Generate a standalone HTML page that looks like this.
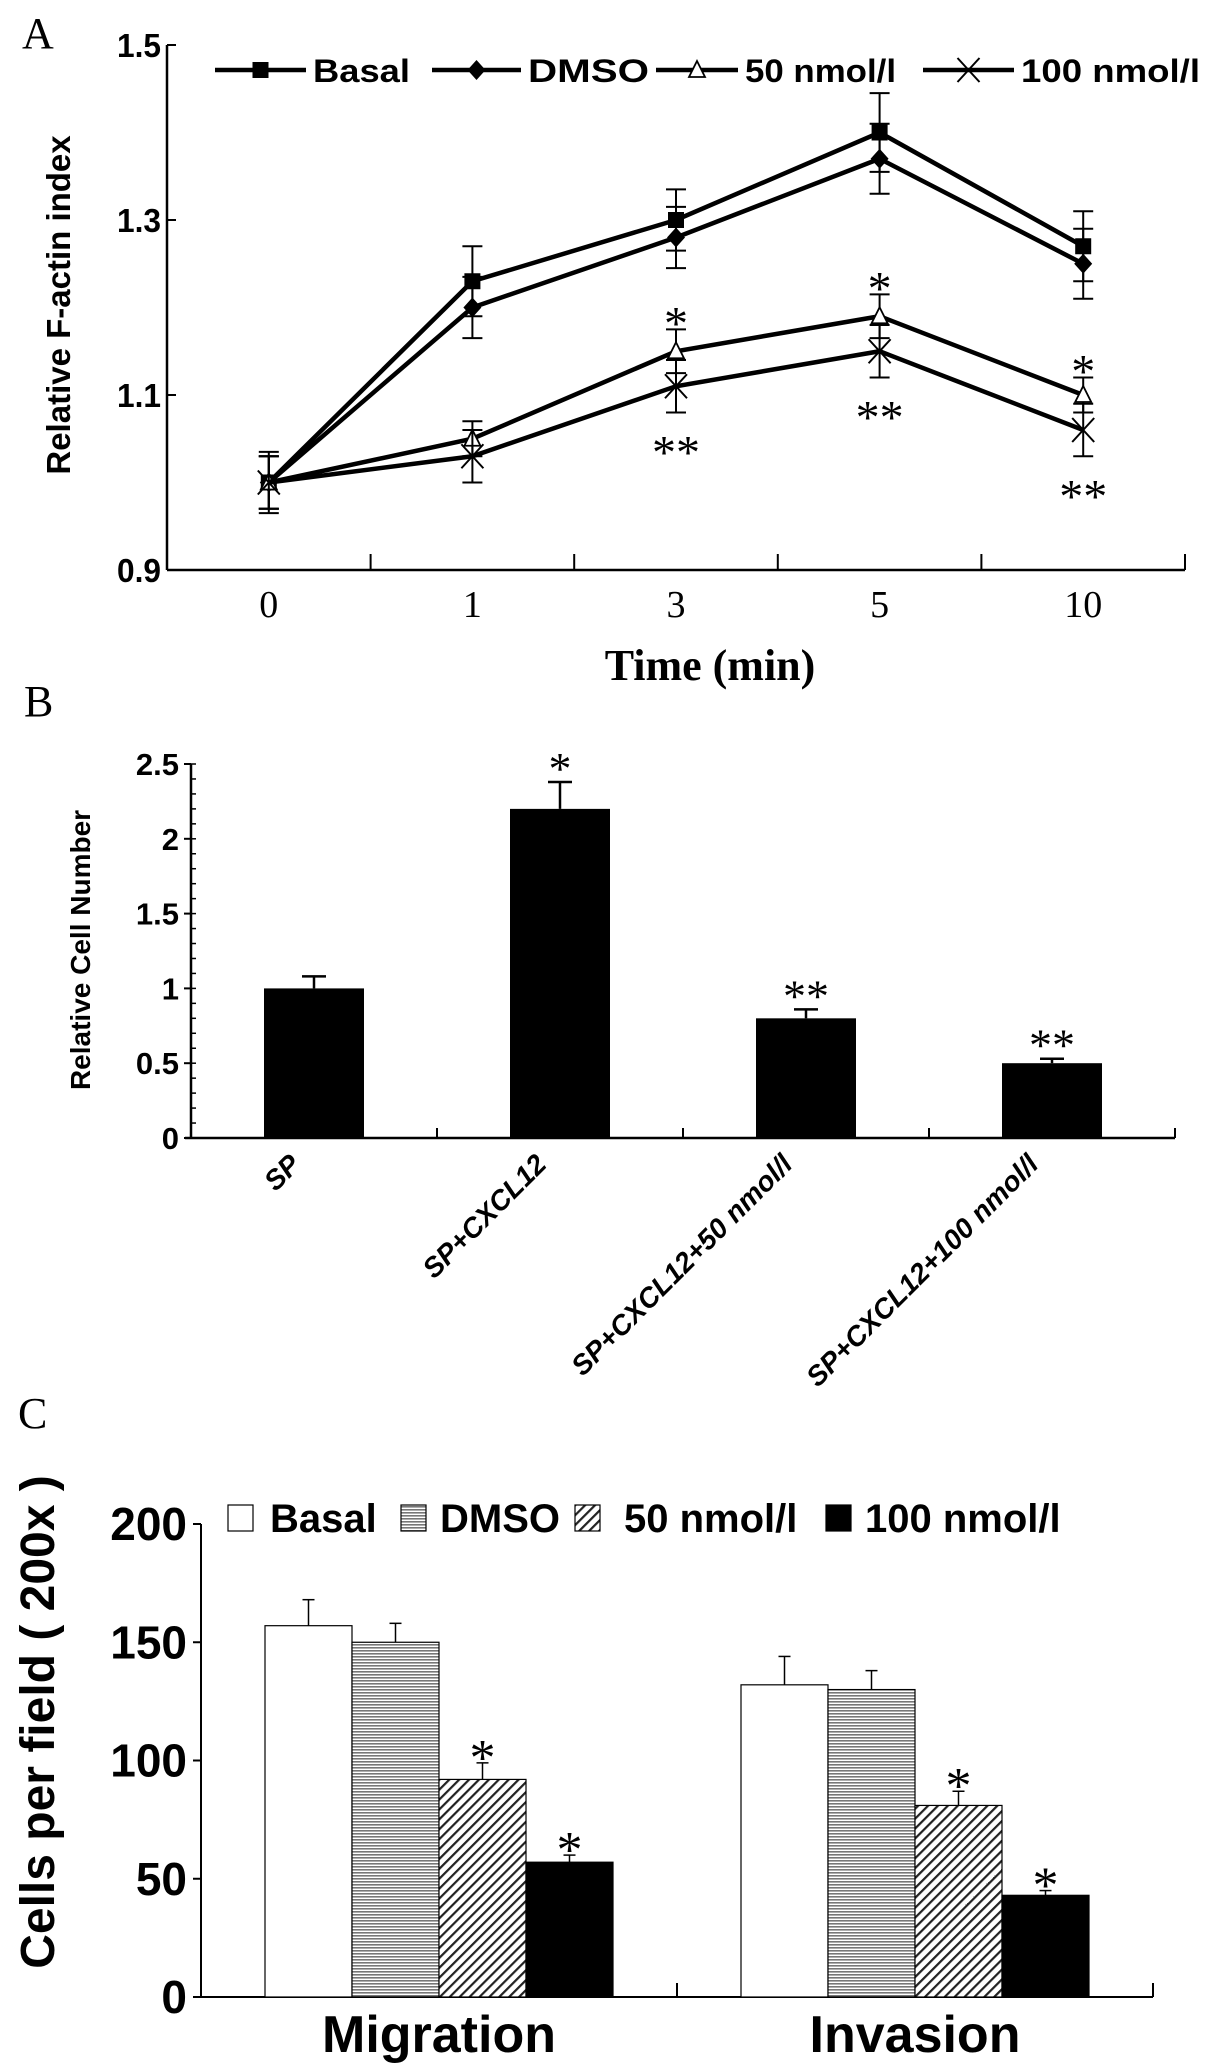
<!DOCTYPE html>
<html><head><meta charset="utf-8"><style>
html,body{margin:0;padding:0;background:#fff;}
svg{display:block;}
.n{font-family:"Liberation Sans Narrow","Liberation Sans",sans-serif;font-weight:bold;}
.s{font-family:"Liberation Sans",sans-serif;font-weight:bold;}
.r{font-family:"Liberation Serif",serif;}
</style></head><body>
<svg id="fig" width="1205" height="2072" viewBox="0 0 1205 2072" xmlns="http://www.w3.org/2000/svg">
<defs>
<pattern id="hz" width="6" height="3" patternUnits="userSpaceOnUse"><rect width="6" height="3" fill="#fff"/><rect width="6" height="1.6" fill="#777"/></pattern>
<pattern id="dg" width="7" height="7" patternUnits="userSpaceOnUse" patternTransform="rotate(45)"><rect width="7" height="7" fill="#fff"/><rect width="2.2" height="7" fill="#222"/></pattern>
</defs>
<g id="pa"></g>
<g id="pb"></g>
<g id="pc"></g>
</svg>
<script>
// Panel A data
const aCats = ["0","1","3","5","10"];
const aSeriesNames = ["Basal","DMSO","50 nmol/l","100 nmol/l"];
const aBasal = [1.0,1.23,1.30,1.40,1.27];
const aBasalErr = [0.03,0.04,0.035,0.045,0.04];
const aDmso = [1.0,1.20,1.28,1.37,1.25];
const aDmsoErr = [0.035,0.035,0.035,0.04,0.04];
const a50 = [1.0,1.05,1.15,1.19,1.10];
const a50Err = [0.03,0.02,0.025,0.025,0.02];
const a100 = [1.0,1.03,1.11,1.15,1.06];
const a100Err = [0.03,0.03,0.03,0.03,0.03];
const aTicks = [0.9,1.1,1.3,1.5];
const aTickLabels = ["0.9","1.1","1.3","1.5"];
// Panel B data
const bCats = ["SP","SP+CXCL12","SP+CXCL12+50 nmol/l","SP+CXCL12+100 nmol/l"];
const bVals = [1.0,2.2,0.8,0.5];
const bErr = [0.08,0.18,0.06,0.03];
const bSig = ["","*","**","**"];
const bTicks = [0,0.5,1,1.5,2,2.5];
const bTickLabels = ["0","0.5","1","1.5","2","2.5"];
// Panel C data
const cGroups = ["Migration","Invasion"];
const cSeries = ["Basal","DMSO","50 nmol/l","100 nmol/l"];
const cMigration = [157,150,92,57];
const cMigrationErr = [11,8,7,3];
const cInvasion = [132,130,81,43];
const cInvasionErr = [12,8,6,2];
const cSig = ["","","*","*"];
const cTicks = [0,50,100,150,200];
const cTickLabels = ["0","50","100","150","200"];

const NS="http://www.w3.org/2000/svg";
function mk(parent,tag,attrs,text){const e=document.createElementNS(NS,tag);for(const k in attrs)e.setAttribute(k,attrs[k]);if(text!==undefined)e.textContent=text;parent.appendChild(e);return e;}

// ---------- Panel A ----------
const pa=document.getElementById('pa');
const aX0=167,aX1=1185,aY0=570,aY1=45;
const ay=v=>aY0+(v-0.9)/(0.6)*(aY1-aY0);
const band=(aX1-aX0)/aCats.length;
const ax=i=>aX0+band*(i+0.5);
let t=mk(pa,'text',{x:22,y:48,'font-size':44,class:'r'},'A');


let l=mk(pa,'line',{x1:aX0,y1:aY1,x2:aX0,y2:aY0,stroke:'#000','stroke-width':2.5});


l=mk(pa,'line',{x1:aX0,y1:aY0,x2:aX1,y2:aY0,stroke:'#000','stroke-width':2.5});


aTicks.forEach((v,i)=>{
  mk(pa,'line',{x1:aX0,y1:ay(v),x2:aX0+9,y2:ay(v),stroke:'#000','stroke-width':2});
  const tt=mk(pa,'text',{x:aX0-6,y:ay(v)+12,'font-size':33,'text-anchor':'end',class:'n',textLength:44,lengthAdjust:'spacingAndGlyphs'},aTickLabels[i]);
  
  
});
for(let i=1;i<=aCats.length;i++){mk(pa,'line',{x1:aX0+band*i,y1:aY0,x2:aX0+band*i,y2:aY0-16,stroke:'#000','stroke-width':2});}
aCats.forEach((c,i)=>{
  const tt=mk(pa,'text',{x:ax(i),y:617,'font-size':38,'text-anchor':'middle',class:'r'},c);
  
  
});
t=mk(pa,'text',{x:710,y:680,'font-size':44,'text-anchor':'middle',class:'r','font-weight':'bold'},'Time (min)');


t=mk(pa,'text',{x:0,y:0,'font-size':33,'text-anchor':'middle',class:'s',transform:'translate(70,305) rotate(-90)'},'Relative  F-actin index');


function marker(g,type,x,y){
  if(type===0) mk(g,'rect',{x:x-8,y:y-8,width:16,height:16,fill:'#000'});
  else if(type===1) mk(g,'polygon',{points:`${x},${y-10} ${x+9},${y} ${x},${y+10} ${x-9},${y}`,fill:'#000'});
  else if(type===2) mk(g,'polygon',{points:`${x},${y-9} ${x+8},${y+7} ${x-8},${y+7}`,fill:'#fff',stroke:'#000','stroke-width':1.8});
  else {mk(g,'line',{x1:x-11,y1:y-12,x2:x+11,y2:y+12,stroke:'#000','stroke-width':2});mk(g,'line',{x1:x+11,y1:y-12,x2:x-11,y2:y+12,stroke:'#000','stroke-width':2});}
}
const aData=[[aBasal,aBasalErr],[aDmso,aDmsoErr],[a50,a50Err],[a100,a100Err]];
aData.forEach(([vals,errs],s)=>{
  const g=mk(pa,'g',{});
  
  
  const pl=mk(g,'polyline',{points:vals.map((v,i)=>ax(i)+','+ay(v)).join(' '),fill:'none',stroke:'#000','stroke-width':4.5});
  
  
  vals.forEach((v,i)=>{
    const x=ax(i),y1=ay(v+errs[i]),y2=ay(v-errs[i]);
    mk(g,'line',{x1:x,y1:y1,x2:x,y2:y2,stroke:'#000','stroke-width':2});
    mk(g,'line',{x1:x-10,y1:y1,x2:x+10,y2:y1,stroke:'#000','stroke-width':2});
    mk(g,'line',{x1:x-10,y1:y2,x2:x+10,y2:y2,stroke:'#000','stroke-width':2});
    marker(g,s,x,ay(v));
  });
});
// asterisks A
[2,3,4].forEach(i=>{
  let tt=mk(pa,'text',{x:ax(i),y:ay(a50[i]+a50Err[i])+10,'font-size':48,'text-anchor':'middle',class:'r'},'*');
  
  
  tt=mk(pa,'text',{x:ax(i),y:ay(a100[i]-a100Err[i])+56,'font-size':48,'text-anchor':'middle',class:'r'},'**');
  
  
});
// legend A
const aLeg=[[215,313,97],[432,528,121],[656,745,151],[923,1021,179]];
aSeriesNames.forEach((n,s)=>{
  const g=mk(pa,'g',{});
  
  
  const [x0,tx,tl]=aLeg[s];
  mk(g,'line',{x1:x0,y1:70,x2:tx-7,y2:70,stroke:'#000','stroke-width':4.5});
  marker(g,s,(x0+tx-7)/2,70);
  mk(g,'text',{x:tx,y:82,'font-size':32,class:'n',textLength:tl,lengthAdjust:'spacingAndGlyphs'},n);
});

// ---------- Panel B ----------
const pb=document.getElementById('pb');
const bX0=191,bX1=1175,bY0=1138,bY1=764;
const by=v=>bY0+v/2.5*(bY1-bY0);
const bBand=(bX1-bX0)/bCats.length;
const bx=i=>bX0+bBand*(i+0.5);
t=mk(pb,'text',{x:24,y:716,'font-size':44,class:'r'},'B');


l=mk(pb,'line',{x1:bX0,y1:bY1,x2:bX0,y2:bY0,stroke:'#000','stroke-width':2.5});


l=mk(pb,'line',{x1:bX0-6,y1:bY0,x2:bX1,y2:bY0,stroke:'#000','stroke-width':2.5});


for(let v=0;v<=2.5001;v+=0.1){mk(pb,'line',{x1:bX0,y1:by(v),x2:bX0+5,y2:by(v),stroke:'#000','stroke-width':1.5});}
bTicks.forEach((v,i)=>{
  mk(pb,'line',{x1:bX0-7,y1:by(v),x2:bX0,y2:by(v),stroke:'#000','stroke-width':2});
  const tt=mk(pb,'text',{x:bX0-12,y:by(v)+11,'font-size':31,'text-anchor':'end',class:'n'},bTickLabels[i]);
  
  
});
for(let i=1;i<=bCats.length;i++){mk(pb,'line',{x1:bX0+bBand*i,y1:bY0,x2:bX0+bBand*i,y2:bY0-10,stroke:'#000','stroke-width':2});}
t=mk(pb,'text',{x:0,y:0,'font-size':28,'text-anchor':'middle',class:'s',transform:'translate(90,950) rotate(-90)'},'Relative  Cell Number');


bVals.forEach((v,i)=>{
  const x=bx(i),w=100;
  const r=mk(pb,'rect',{x:x-w/2,y:by(v),width:w,height:bY0-by(v),fill:'#000'});
  
  
  const ye=by(v+bErr[i]);
  mk(pb,'line',{x1:x,y1:ye,x2:x,y2:by(v),stroke:'#000','stroke-width':2.5});
  mk(pb,'line',{x1:x-12,y1:ye,x2:x+12,y2:ye,stroke:'#000','stroke-width':2.5});
  if(bSig[i]){const tt=mk(pb,'text',{x:x,y:ye+2,'font-size':46,'text-anchor':'middle',class:'r'},bSig[i]);
    
    }
  const lb=mk(pb,'text',{x:0,y:0,'font-size':28,'text-anchor':'end',class:'s','font-style':'italic',transform:`translate(${x-12},${bY0+28}) rotate(-45)`},bCats[i]);
  
  
});

// ---------- Panel C ----------
const pc=document.getElementById('pc');
const cX0=201,cX1=1153,cY0=1997,cY1=1524;
const cy=v=>cY0+v/200*(cY1-cY0);
const cBand=(cX1-cX0)/cGroups.length;
const bw=87;
const cx=(g,s)=>cX0+cBand*(g+0.5)+(s-2)*bw;
t=mk(pc,'text',{x:18,y:1428,'font-size':44,class:'r'},'C');


l=mk(pc,'line',{x1:cX0,y1:cY1,x2:cX0,y2:cY0,stroke:'#000','stroke-width':2});


l=mk(pc,'line',{x1:cX0,y1:cY0,x2:cX1,y2:cY0,stroke:'#000','stroke-width':2});


cTicks.forEach((v,i)=>{
  mk(pc,'line',{x1:cX0-8,y1:cy(v),x2:cX0,y2:cy(v),stroke:'#000','stroke-width':2});
  const tt=mk(pc,'text',{x:cX0-14,y:cy(v)+16,'font-size':46,'text-anchor':'end',class:'n'},cTickLabels[i]);
  
  
});
for(let i=1;i<=cGroups.length;i++){mk(pc,'line',{x1:cX0+cBand*i,y1:cY0,x2:cX0+cBand*i,y2:cY0-14,stroke:'#000','stroke-width':2});}
t=mk(pc,'text',{x:0,y:0,'font-size':48,'text-anchor':'middle',class:'s',transform:'translate(54,1722) rotate(-90)'},'Cells per field ( 200x )');


const fills=['#fff','url(#hz)','url(#dg)','#000'];
[[cMigration,cMigrationErr],[cInvasion,cInvasionErr]].forEach(([vals,errs],g)=>{
  vals.forEach((v,s)=>{
    const x=cx(g,s);
    const r=mk(pc,'rect',{x:x,y:cy(v),width:bw,height:cY0-cy(v),fill:fills[s],stroke:'#000','stroke-width':1.2});
    
    
    const xm=x+bw/2,ye=cy(v+errs[s]);
    mk(pc,'line',{x1:xm,y1:ye,x2:xm,y2:cy(v),stroke:'#000','stroke-width':1.5});
    mk(pc,'line',{x1:xm-6,y1:ye,x2:xm+6,y2:ye,stroke:'#000','stroke-width':1.5});
    if(cSig[s]){const tt=mk(pc,'text',{x:xm,y:ye+12,'font-size':52,'text-anchor':'middle',class:'r'},cSig[s]);
      
      }
  });
  const tt=mk(pc,'text',{x:cX0+cBand*(g+0.5),y:2052,'font-size':52,'text-anchor':'middle',class:'n'},cGroups[g]);
  
  
});
const cLeg=[[228,270],[401,440],[575,624],[826,865]];
cSeries.forEach((n,s)=>{
  const g=mk(pc,'g',{});
  
  
  const [bx0,tx]=cLeg[s];
  mk(g,'rect',{x:bx0,y:1505,width:25,height:26,fill:fills[s],stroke:'#000','stroke-width':1.2});
  mk(g,'text',{x:tx,y:1532,'font-size':40,class:'n'},n);
});
</script>
</body></html>
